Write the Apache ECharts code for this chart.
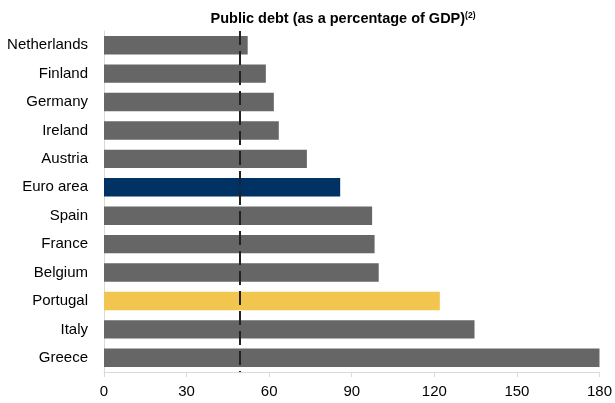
<!DOCTYPE html>
<html><head><meta charset="utf-8">
<script src="https://cdn.jsdelivr.net/npm/echarts@6/dist/echarts.min.js"></script>
<style>html,body{margin:0;padding:0;background:#fff;overflow:hidden}#c{width:615px;height:403px}</style>
</head><body><div id="c"></div>
<script>
const categories = ["Netherlands","Finland","Germany","Ireland","Austria","Euro area","Spain","France","Belgium","Portugal","Italy","Greece"];
const debtValues = [52.2, 58.8, 61.7, 63.5, 73.7, 85.8, 97.4, 98.3, 99.8, 122.0, 134.6, 180.0];
const referenceValue = 49.3;
const xTicks = [0, 30, 60, 90, 120, 150, 180];
const highlight = {"Euro area": "#003263", "Portugal": "#f2c54f"};
const baseColor = "#666666";
const FONT = "'Liberation Sans', Arial, sans-serif";

const chart = echarts.init(document.getElementById('c'), null, {renderer: 'canvas', width: 615, height: 403});
chart.setOption({
  animation: false,
  backgroundColor: '#fff',
  title: {
    text: '{t|Public debt (as a percentage of GDP)}{s|(2)}',
    left: 338, top: 6, textAlign: 'center',
    textStyle: {
      rich: {
        t: {fontFamily: FONT, fontWeight: 'bold', fontSize: 14.5, color: '#000', verticalAlign: 'bottom'},
        s: {fontFamily: FONT, fontWeight: 'bold', fontSize: 8.5, color: '#000', verticalAlign: 'top', padding: [0,0,6,0]}
      }
    }
  },
  grid: {left: 104, right: 12, top: 31, bottom: 31, containLabel: false},
  xAxis: {
    type: 'value', min: xTicks[0], max: xTicks[xTicks.length-1], interval: 30,
    axisLine: {show: true, lineStyle: {color: '#d9d9d9', width: 1}},
    axisTick: {show: true, length: 5, lineStyle: {color: '#d9d9d9'}},
    splitLine: {show: false},
    axisLabel: {fontFamily: FONT, fontSize: 15, color: '#000', margin: 12}
  },
  yAxis: {
    type: 'category', data: categories, inverse: true,
    axisLine: {show: true, lineStyle: {color: '#d9d9d9', width: 1}},
    axisTick: {show: false},
    axisLabel: {fontFamily: FONT, fontSize: 15, color: '#000', margin: 16}
  },
  series: [{
    type: 'bar',
    data: debtValues.map((v, i) => ({value: v, itemStyle: {color: highlight[categories[i]] || baseColor}})),
    barCategoryGap: '35%',
    markLine: {
      silent: true, symbol: 'none', animation: false,
      label: {show: false},
      lineStyle: {color: '#222', width: 2, type: [14, 6]},
      data: [{xAxis: referenceValue}]
    }
  }]
});
</script></body></html>
